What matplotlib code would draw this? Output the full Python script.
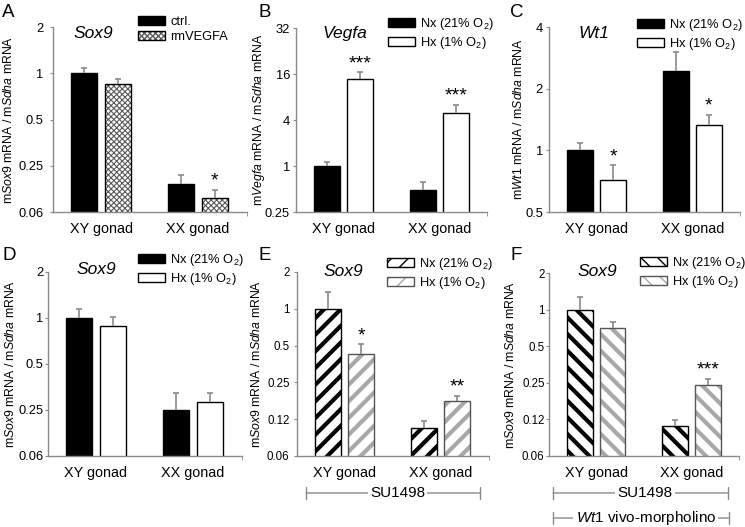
import numpy as np
import matplotlib
matplotlib.use('Agg')
import matplotlib.pyplot as plt
import matplotlib.patches as mpatches
from matplotlib.legend_handler import HandlerTuple

plt.rcParams['font.family'] = ['Liberation Sans', 'DejaVu Sans']
plt.rcParams['mathtext.fontset'] = 'custom'
plt.rcParams['mathtext.rm'] = 'Liberation Sans'
plt.rcParams['mathtext.it'] = 'Liberation Sans:italic'
plt.rcParams['mathtext.bf'] = 'Liberation Sans:bold'

# ---- data ----
groups = ['XY gonad', 'XX gonad']

a_ctrl = [1.0, 0.19]
a_ctrl_err = [0.08, 0.028]
a_rm = [0.85, 0.154]
a_rm_err = [0.065, 0.02]
a_stars = ['', '*']

b_nx = [1.0, 0.48]
b_nx_err = [0.13, 0.14]
b_hx = [13.8, 4.9]
b_hx_err = [3.2, 1.4]
b_stars = ['***', '***']

c_nx = [1.0, 2.43]
c_nx_err = [0.08, 0.59]
c_hx = [0.72, 1.33]
c_hx_err = [0.125, 0.16]
c_stars = ['*', '*']

d_nx = [1.0, 0.25]
d_nx_err = [0.145, 0.075]
d_hx = [0.89, 0.284]
d_hx_err = [0.125, 0.04]
d_stars = ['', '']

e_nx = [1.0, 0.105]
e_nx_err = [0.37, 0.015]
e_hx = [0.424, 0.176]
e_hx_err = [0.09, 0.018]
e_stars = ['*', '**']

f_nx = [1.0, 0.111]
f_nx_err = [0.28, 0.012]
f_hx = [0.707, 0.24]
f_hx_err = [0.09, 0.03]
f_stars = ['', '***']

tick_a = [0.125, 0.25, 0.5, 1, 2]
tick_a_lab = ['0.06', '0.25', '0.5', '1', '2']
tick_b = [0.25, 1, 4, 16, 64]
tick_b_lab = ['0.25', '1', '4', '16', '32']
tick_c = [0.5, 1, 2, 4]
tick_c_lab = ['0.5', '1', '2', '4']
tick_e = [0.0625, 0.125, 0.25, 0.5, 1, 2]
tick_e_lab = ['0.06', '0.12', '0.25', '0.5', '1', '2']

lab_nx = 'Nx (21% O$_2$)'
lab_hx = 'Hx (1% O$_2$)'

# ---- styles ----
GRAY = '#8a8a8a'
solid_black = dict(face='black', edge='black')
solid_white = dict(face='white', edge='black')
checker = dict(face='white', edge='black', hatch='xxxxxx', hcol='#5a5a5a', hlw=0.8)
stripe_k = dict(face='white', edge='black', hatch='//', hcol='black', hlw=3.0)
stripe_g = dict(face='white', edge='#555555', hatch='//', hcol='#a8a8a8', hlw=3.0)
bstripe_k = dict(face='white', edge='black', hatch='\\\\', hcol='black', hlw=3.0)
bstripe_g = dict(face='white', edge='#555555', hatch='\\\\', hcol='#a8a8a8', hlw=3.0)

W, H = 745, 527
fig = plt.figure(figsize=(W / 100, H / 100), dpi=100)


def add_ax(l, r, t, b):
    return fig.add_axes([l / W, 1 - b / H, (r - l) / W, (b - t) / H])


def draw_bars(ax, x, vals, st):
    if 'hatch' in st:
        with plt.rc_context({'hatch.linewidth': st['hlw']}):
            bb = ax.bar(x, vals, 0.27, color='white', edgecolor=st['hcol'],
                        hatch=st['hatch'], linewidth=0, zorder=2)
        for p in bb:
            if hasattr(p, 'set_hatch_linewidth'):
                p.set_hatch_linewidth(st['hlw'])
        ax.bar(x, vals, 0.27, facecolor='none', edgecolor=st['edge'],
               linewidth=1, zorder=2.5)
        h1 = mpatches.Patch(facecolor='white', edgecolor=st['hcol'], hatch=st['hatch'], linewidth=0)
        if hasattr(h1, 'set_hatch_linewidth'):
            h1.set_hatch_linewidth(st['hlw'])
        h2 = mpatches.Patch(facecolor='none', edgecolor=st['edge'], linewidth=1)
        return (h1, h2)
    ax.bar(x, vals, 0.27, color=st['face'], edgecolor=st['edge'],
           linewidth=1, zorder=2)
    return mpatches.Patch(facecolor=st['face'], edgecolor=st['edge'], linewidth=1)


def draw_err(ax, x, vals, err):
    eb = ax.errorbar(x, vals, yerr=[np.zeros(len(vals)), err], fmt='none',
                     ecolor=GRAY, elinewidth=1.2, capsize=2.5, capthick=1.2, zorder=3)
    eb.lines[1][0].set_visible(False)


def panel(box, v1, e1, v2, e2, st1, st2, lab1, lab2, stars, ticks, tlabs,
          base, gene, title_xy, ylab_x, leg_xy, ysz, ygap):
    ax = add_ax(*box)
    x = np.arange(len(groups))
    h1 = draw_bars(ax, x - 0.172, v1, st1)
    h2 = draw_bars(ax, x + 0.172, v2, st2)
    draw_err(ax, x - 0.172, v1, e1)
    draw_err(ax, x + 0.172, v2, e2)
    for xi, v, e, s in zip(x + 0.172, v2, e2, stars):
        if s:
            ax.annotate(s, (xi, v + e), xytext=(0, 0), textcoords='offset points',
                        ha='center', va='bottom', fontsize=14)
    ax.set_yscale('log', base=base)
    ax.set_ylim(ticks[0], ticks[-1])
    ax.set_yticks(ticks)
    ax.set_yticklabels(tlabs)
    ax.yaxis.set_minor_locator(matplotlib.ticker.NullLocator())
    ax.set_xlim(-0.5, 1.5)
    ax.set_xticks(x)
    ax.set_xticklabels(groups, fontsize=10.4)
    ax.set_xticks([1.5], minor=True)
    ax.tick_params(axis='x', which='major', length=0, pad=7)
    ax.tick_params(axis='x', which='minor', length=3, color=GRAY)
    ax.tick_params(axis='y', length=2.5, color=GRAY, labelsize=ysz,
                   pad=max(ygap - 3.5, 0.3) * 0.72)
    for s in ['top', 'right']:
        ax.spines[s].set_visible(False)
    for s in ['left', 'bottom']:
        ax.spines[s].set_color(GRAY)
        ax.spines[s].set_linewidth(1)
    ax.patch.set_alpha(0)
    ax.set_ylabel('m$\\it{%s}$ mRNA / m$\\it{Sdha}$ mRNA' % gene, fontsize=8.8)
    l, r, t, b = box
    ax.yaxis.set_label_coords((ylab_x + 7 - l) / (r - l), 0.5)
    ax.text((title_xy[0] - l) / (r - l), (b - title_xy[1]) / (b - t), gene,
            transform=ax.transAxes, ha='center', va='center', fontsize=12.5,
            style='italic')
    ax.legend([h1, h2], [lab1, lab2], loc='upper left', frameon=False,
              bbox_to_anchor=(leg_xy[0] / W, 1 - leg_xy[1] / H),
              bbox_transform=fig.transFigure, borderpad=0, borderaxespad=0,
              handlelength=2.1, handleheight=0.62, handletextpad=0.4,
              labelspacing=0.25, fontsize=9.3,
              handler_map={tuple: HandlerTuple(ndivide=1, pad=0)})
    return ax


axA = panel((52.5, 246.5, 27, 212), a_ctrl, a_ctrl_err, a_rm, a_rm_err,
            solid_black, checker, 'ctrl.', 'rmVEGFA', a_stars, tick_a, tick_a_lab,
            2, 'Sox9', (93.5, 33), 8, (138, 16), 9.3, 9)
axB = panel((296, 487, 28, 212), b_nx, b_nx_err, b_hx, b_hx_err,
            solid_black, solid_white, lab_nx, lab_hx, b_stars, tick_b, tick_b_lab,
            4, 'Vegfa', (344.5, 33), 260, (388, 16), 9.3, 6)
axC = panel((549, 740, 27, 212), c_nx, c_nx_err, c_hx, c_hx_err,
            solid_black, solid_white, lab_nx, lab_hx, c_stars, tick_c, tick_c_lab,
            2, 'Wt1', (594, 33), 518, (637, 17), 9.3, 6)
axD = panel((47.5, 241.5, 272, 456), d_nx, d_nx_err, d_hx, d_hx_err,
            solid_black, solid_white, lab_nx, lab_hx, d_stars, tick_a, tick_a_lab,
            2, 'Sox9', (96, 270), 10, (138, 252), 9.3, 4)
axE = panel((296.5, 488.5, 272, 456), e_nx, e_nx_err, e_hx, e_hx_err,
            stripe_k, stripe_g, lab_nx, lab_hx, e_stars, tick_e, tick_e_lab,
            2, 'Sox9', (343, 272), 256.5, (387, 256), 8.3, 7)
axF = panel((548.5, 739, 273, 456), f_nx, f_nx_err, f_hx, f_hx_err,
            bstripe_k, bstripe_g, lab_nx, lab_hx, f_stars, tick_e, tick_e_lab,
            2, 'Sox9', (597.5, 272), 510, (640, 255), 8.3, 4)

# panel letters
for lt, (px, py) in zip('ABCDEF', [(2, 4), (258, 4), (510, 4), (2, 247), (258, 247), (510, 247)]):
    fig.text(px / W, 1 - py / H, lt, fontsize=13.5, ha='left', va='top')


def bracket(ax, x0, x1, y, label):
    tr = ax.get_xaxis_transform()
    ax.annotate('', xy=(x0, y), xytext=(x1, y), xycoords=tr, textcoords=tr,
                arrowprops=dict(arrowstyle='|-|, widthA=0.4, widthB=0.4',
                                color=GRAY, lw=1, shrinkA=0, shrinkB=0),
                annotation_clip=False)
    ax.text((x0 + x1) / 2 + 0.05, y, label, transform=tr, ha='center', va='center',
            fontsize=11, bbox=dict(facecolor='white', edgecolor='none', pad=1.5),
            clip_on=False)


bracket(axE, -0.4, 1.41, -0.201, 'SU1498')
bracket(axF, -0.45, 1.38, -0.202, 'SU1498')
bracket(axF, -0.45, 1.39, -0.339, '$\\it{Wt1}$ vivo-morpholino')

fig.savefig('out.png', dpi=100)
